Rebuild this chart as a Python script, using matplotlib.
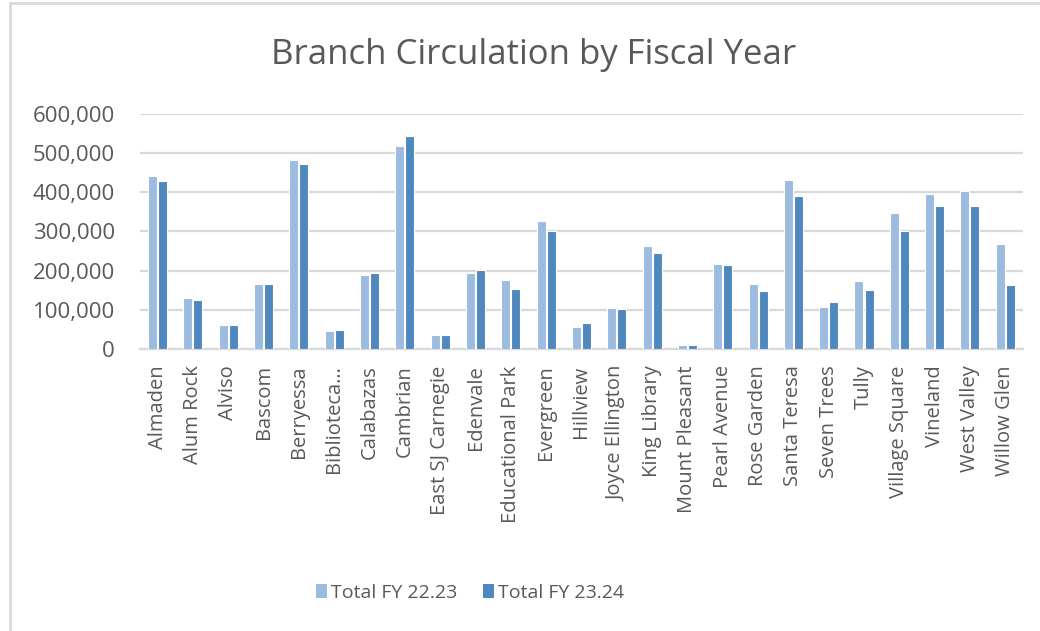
import matplotlib
matplotlib.use("Agg")
import matplotlib.pyplot as plt
from matplotlib.patches import Patch
from matplotlib.lines import Line2D
from matplotlib.ticker import FuncFormatter
import numpy as np

# ---------------------------------------------------------------------------
# Data
# ---------------------------------------------------------------------------
BRANCHES = [
    "Almaden", "Alum Rock", "Alviso", "Bascom", "Berryessa", "Biblioteca…",
    "Calabazas", "Cambrian", "East SJ Carnegie", "Edenvale", "Educational Park",
    "Evergreen", "Hillview", "Joyce Ellington", "King Library", "Mount Pleasant",
    "Pearl Avenue", "Rose Garden", "Santa Teresa", "Seven Trees", "Tully",
    "Village Square", "Vineland", "West Valley", "Willow Glen",
]
FY_22_23 = [443000, 129000, 60000, 166000, 483000, 45000, 188000, 520000,
            34000, 195000, 177000, 326000, 56000, 103000, 264000, 8500,
            217000, 166000, 432000, 107000, 172000, 347000, 395000, 403000,
            268000]
FY_23_24 = [429000, 125000, 60000, 166000, 473000, 49000, 195000, 545000,
            34000, 202000, 154000, 300000, 67000, 101000, 246000, 8500,
            213000, 147000, 392000, 119000, 151000, 300000, 366000, 366000,
            162000]
SERIES_NAMES = ["Total FY 22.23", "Total FY 23.24"]

LIGHT = "#9BBBE0"
DARK = "#4F88BF"
TEXT = "#595959"
GRID = "#D9D9D9"
FONT = "Open Sans"


fig = plt.figure(figsize=(10.4, 6.31), dpi=100)
ax = fig.add_axes([0.1346, 0.4474, 0.849, 0.3715])

x = np.arange(len(BRANCHES))
w = 0.255
ax.bar(x - 0.142, FY_22_23, width=w, color=LIGHT, edgecolor="white",
       linewidth=0.8, zorder=3)
ax.bar(x + 0.142, FY_23_24, width=w, color=DARK, edgecolor="white",
       linewidth=0.8, zorder=3)

ax.set_xlim(-0.5, len(BRANCHES) - 0.5)
ax.set_ylim(0, 600000)
ax.set_yticks(np.arange(0, 600001, 100000))
ax.yaxis.set_major_formatter(FuncFormatter(lambda v, _: f"{int(v):,}"))
ax.grid(axis="y", color=GRID, linewidth=1.6, zorder=0)
for s in ["top", "right", "left"]:
    ax.spines[s].set_visible(False)
ax.spines["bottom"].set_color(GRID)
ax.spines["bottom"].set_linewidth(1.6)

ax.set_xticks(x)
ax.set_xticklabels(BRANCHES, rotation=90, fontsize=14.5, color=TEXT,
                   family=FONT)
ax.tick_params(axis="both", length=0)
ax.tick_params(axis="x", pad=12)
ax.tick_params(axis="y", pad=18)
for lbl in ax.get_yticklabels():
    lbl.set_fontsize(16)
    lbl.set_color(TEXT)
    lbl.set_family(FONT)

fig.text(0.513, 0.913, "Branch Circulation by Fiscal Year", ha="center",
         va="center", fontsize=25, color=TEXT, family=FONT)

handles = [Patch(facecolor=LIGHT, edgecolor="none"),
           Patch(facecolor=DARK, edgecolor="none")]
fig.legend(handles, SERIES_NAMES, loc="center", bbox_to_anchor=(0.452, 0.061),
           ncol=2, frameon=False, handlelength=0.6, handleheight=0.75,
           handletextpad=0.2, columnspacing=1.3,
           prop={"family": FONT, "size": 14}, labelcolor=TEXT)

# chart-area border (top and left edges visible in the crop)
fig.add_artist(Line2D([10 / 1040, 1.0], [1 - 3 / 631, 1 - 3 / 631],
                      transform=fig.transFigure, color=GRID, linewidth=2))
fig.add_artist(Line2D([10 / 1040, 10 / 1040], [0.0, 1 - 3 / 631],
                      transform=fig.transFigure, color=GRID, linewidth=2))

fig.savefig("out.png", dpi=100)
